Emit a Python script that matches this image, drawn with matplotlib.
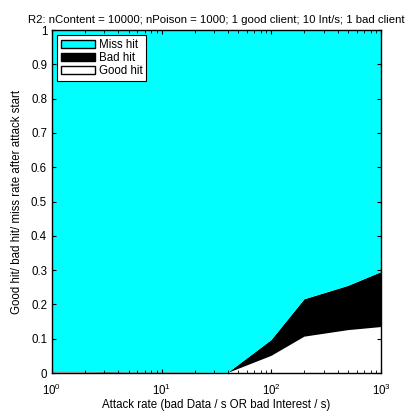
import numpy as np
import matplotlib
matplotlib.use('Agg')
import matplotlib.pyplot as plt
from matplotlib.patches import Patch

plt.rcParams['font.family'] = ['Liberation Sans', 'DejaVu Sans']

# attack rates and fractions
rate = [1, 2, 5, 10, 20, 40, 100, 200, 500, 1000]
good_hit = [0.002, 0.002, 0.001, 0.001, 0.0005, 0.0, 0.050, 0.106, 0.125, 0.134]
bad_hit = [0.002, 0.002, 0.001, 0.001, 0.001, 0.0, 0.046, 0.109, 0.129, 0.160]
miss_hit = [1 - g - b for g, b in zip(good_hit, bad_hit)]

fig = plt.figure(figsize=(4.09, 4.17), dpi=100)
ax = fig.add_axes([0.127, 0.1055, 0.805, 0.8225])

ax.stackplot(rate, good_hit, bad_hit, miss_hit,
             colors=['white', 'black', '#00ffff'], linewidth=0)
ax.set_xscale('log')
ax.set_xlim(1, 1000)
ax.set_ylim(0, 1)
ax.set_yticks(np.arange(0, 1.01, 0.1))
ax.set_yticklabels(['0', '0.1', '0.2', '0.3', '0.4', '0.5', '0.6', '0.7', '0.8', '0.9', '1'])
ax.tick_params(which='both', direction='in', top=True, right=True, labelsize=8.3)
ax.tick_params(which='major', length=3)
ax.tick_params(which='minor', length=2)
ax.tick_params(axis='x', pad=7)
for s in ax.spines.values():
    s.set_linewidth(1.0)

ax.set_xlabel('Attack rate (bad Data / s OR bad Interest / s)', fontsize=8.3, labelpad=1)
ax.set_ylabel('Good hit/ bad hit/ miss rate after attack start', fontsize=8.3, labelpad=6)
ax.set_title('R2: nContent = 10000; nPoison = 1000; 1 good client; 10 Int/s; 1 bad client',
             fontsize=8.2, pad=5)

handles = [Patch(facecolor='#00ffff', edgecolor='black', label='Miss hit'),
           Patch(facecolor='black', edgecolor='black', label='Bad hit'),
           Patch(facecolor='white', edgecolor='black', label='Good hit')]
leg = ax.legend(handles=handles, loc='upper left', fontsize=8.3, fancybox=False,
                framealpha=1, edgecolor='black', borderpad=0.3, labelspacing=0.12,
                handlelength=3.0, handletextpad=0.3, borderaxespad=0.45)
leg.get_frame().set_linewidth(0.8)

fig.savefig('out.png', dpi=100)
